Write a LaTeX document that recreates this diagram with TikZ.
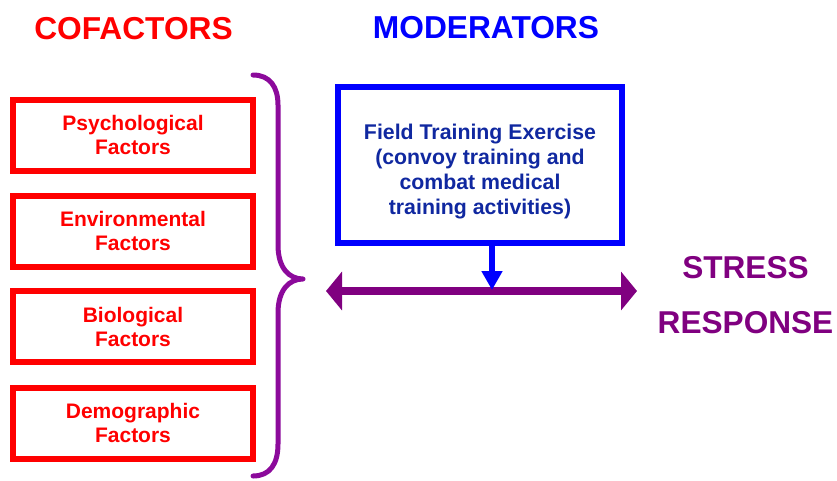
\documentclass[tikz,border=0pt]{standalone}
\usepackage{fontspec}
\setmainfont{Liberation Sans}
\usetikzlibrary{arrows.meta}

\definecolor{cofred}{RGB}{255,0,0}
\definecolor{modblue}{RGB}{0,0,255}
\definecolor{modtext}{RGB}{16,40,160}
\definecolor{resppurple}{RGB}{128,0,128}
\definecolor{bracepurple}{RGB}{140,10,155}

\tikzset{
  heading/.style={anchor=base, inner sep=0pt, font=\fontsize{31.7}{31.7}\selectfont\bfseries},
  factorbox/.style={draw=cofred, line width=6pt, minimum width=240pt, minimum height=71pt,
    inner sep=0pt, align=center, text=cofred, font=\fontsize{21}{24}\selectfont\bfseries},
  modbox/.style={draw=modblue, line width=6pt, minimum width=284pt, minimum height=156pt, inner sep=0pt},
  modlabel/.style={align=center, inner sep=0pt, text=modtext, font=\fontsize{21.3}{24.7}\selectfont\bfseries},
  resplabel/.style={align=center, inner sep=0pt, text=resppurple, font=\fontsize{31.6}{55}\selectfont\bfseries},
}

\begin{document}
\begin{tikzpicture}[x=1pt,y=-1pt]
  \useasboundingbox (0,0) rectangle (837,480);

  % column headings
  \node[heading, text=cofred] (cofhead) at (133.5,39) {COFACTORS};
  \node[heading, text=modblue] (modhead) at (486,38.5) {MODERATORS};

  % cofactor boxes
  \node[factorbox] (psy) at (133,135) {Psychological\\Factors};
  \node[factorbox] (env) at (133,231) {Environmental\\Factors};
  \node[factorbox] (bio) at (133,326.5) {Biological\\Factors};
  \node[factorbox] (dem) at (133,423) {Demographic\\Factors};

  % curly brace grouping the cofactors
  \draw[bracepurple, line width=5pt, line cap=round, line join=round]
    (253,75) .. controls (270,75) and (278,87) .. (278,105)
    -- (278,245) .. controls (278,268) and (289,279) .. (303,279)
    .. controls (289,279) and (278,290) .. (278,313)
    -- (278,444) .. controls (278,464) and (270,476) .. (253,476);

  % moderator box
  \node[modbox] (mod) at (480,165) {};
  \node[modlabel] (modtxt) at (480,171.5)
    {Field Training Exercise\\(convoy training and\\combat medical\\training activities)};

  % stress response
  \node[resplabel] (resp) at (745.5,295.3) {STRESS\\RESPONSE};

  % double arrow and moderator arrow
  \coordinate (axL) at (326,291);
  \coordinate (axR) at (637,291);
  \coordinate (axM) at (492,290);
  \draw[resppurple, line width=8pt,
        {Triangle[length=16pt,width=38pt]}-{Triangle[length=16pt,width=38pt]}]
    (axL) -- (axR);
  \draw[modblue, line width=6pt, -{Triangle[length=19pt,width=20pt]}]
    (mod.south -| axM) -- (axM);
\end{tikzpicture}
\end{document}
